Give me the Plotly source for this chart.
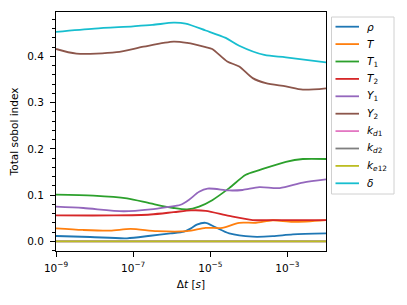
import plotly.graph_objects as go

# log10(Δt) positions and values
rho_x = [-9, -8.11, -7.16, -6.55, -6.03, -5.68, -5.5, -5.35, -5.12, -4.86, -4.51, -3.9, -3.38, -2.86, -2]
rho_y = [0.0115, 0.0093, 0.0065, 0.012, 0.017, 0.021, 0.028, 0.036, 0.040, 0.030, 0.017, 0.010, 0.011, 0.015, 0.017]

T_x = [-9, -8.3, -7.6, -7.07, -6.38, -5.6, -5.12, -4.69, -4.25, -3.82, -3.38, -2.86, -2]
T_y = [0.028, 0.0245, 0.023, 0.0267, 0.022, 0.022, 0.029, 0.029, 0.040, 0.040, 0.0455, 0.042, 0.046]

T1_x = [-9, -8.03, -7.16, -6.55, -5.95, -5.6, -5.29, -4.95, -4.51, -4.08, -3.73, -3.04, -2.6, -2]
T1_y = [0.101, 0.099, 0.093, 0.082, 0.072, 0.069, 0.075, 0.089, 0.115, 0.144, 0.154, 0.172, 0.178, 0.178]

T2_x = [-9, -7.5, -6.55, -5.95, -5.5, -5.12, -4.51, -3.9, -3.38, -2]
T2_y = [0.056, 0.056, 0.058, 0.063, 0.067, 0.066, 0.055, 0.046, 0.046, 0.046]

Y1_x = [-9, -8.29, -7.25, -6.55, -6.12, -5.77, -5.55, -5.29, -5.07, -4.51, -4.16, -3.73, -3.2, -2.6, -2]
Y1_y = [0.075, 0.072, 0.065, 0.069, 0.074, 0.079, 0.090, 0.107, 0.114, 0.110, 0.111, 0.117, 0.115, 0.127, 0.134]

Y2_x = [-9, -8.47, -7.43, -6.73, -5.95, -5.6, -5.12, -4.95, -4.56, -4.25, -3.9, -3.56, -3.04, -2.6, -2]
Y2_y = [0.416, 0.406, 0.409, 0.421, 0.432, 0.429, 0.420, 0.416, 0.389, 0.378, 0.353, 0.342, 0.335, 0.328, 0.331]

kd1_x = [-9, -2]
kd1_y = [0.0, 0.0]
kd2_x = [-9, -2]
kd2_y = [0.0, 0.0]
ke12_x = [-9, -2]
ke12_y = [0.0, 0.0]

delta_x = [-9, -8, -7, -6.5, -5.95, -5.64, -5.12, -4.6, -4.25, -3.6, -3.04, -2]
delta_y = [0.453, 0.460, 0.465, 0.468, 0.473, 0.471, 0.456, 0.440, 0.423, 0.403, 0.398, 0.387]

names = ["<i>ρ</i>", "<i>T</i>", "<i>T</i><sub>1</sub>", "<i>T</i><sub>2</sub>",
         "<i>Y</i><sub>1</sub>", "<i>Y</i><sub>2</sub>", "<i>k</i><sub><i>d</i>1</sub>",
         "<i>k</i><sub><i>d</i>2</sub>", "<i>k</i><sub><i>e</i>12</sub>", "<i>δ</i>"]
xs = [rho_x, T_x, T1_x, T2_x, Y1_x, Y2_x, kd1_x, kd2_x, ke12_x, delta_x]
ys = [rho_y, T_y, T1_y, T2_y, Y1_y, Y2_y, kd1_y, kd2_y, ke12_y, delta_y]
colors = ["#1f77b4", "#ff7f0e", "#2ca02c", "#d62728", "#9467bd",
          "#8c564b", "#e377c2", "#7f7f7f", "#bcbd22", "#17becf"]

xtick_vals = [1e-9, 1e-7, 1e-5, 1e-3]
xtick_text = ["10<sup>−9</sup>", "10<sup>−7</sup>", "10<sup>−5</sup>", "10<sup>−3</sup>"]
ytick_vals = [0.0, 0.1, 0.2, 0.3, 0.4]

W, H = 407, 305
ML, MR, MT, MB = 56, 81, 12, 54
PW, PH = W - ML - MR, H - MT - MB
FS = 10.5

fig = go.Figure()
for x, y, n, c in zip(xs, ys, names, colors):
    fig.add_trace(go.Scatter(
        x=[10 ** v for v in x], y=y, name=n, mode="lines", showlegend=False,
        line=dict(color=c, width=1.8, shape="spline", smoothing=0.8),
    ))

axis_common = dict(showline=True, linecolor="black", linewidth=1, mirror=True,
                   ticks="outside", ticklen=5, tickcolor="black", showgrid=False,
                   zeroline=False, tickfont=dict(size=FS, color="black"))

# legend drawn by hand (matplotlib style box)
def px_to_paper_x(px):
    return (px - ML) / PW

def py_to_paper_y(py):
    return (H - MB - py) / PH

leg_left, leg_right, leg_top, leg_bot = 331.5, 394, 17, 194
first_y, step = 26.7, 17.4
shapes = [dict(type="rect", xref="paper", yref="paper",
               x0=px_to_paper_x(leg_left), x1=px_to_paper_x(leg_right),
               y0=py_to_paper_y(leg_bot), y1=py_to_paper_y(leg_top),
               line=dict(color="#d0d0d0", width=1), fillcolor="rgba(255,255,255,0.8)",
               layer="above")]
annotations = []
for i, (n, c) in enumerate(zip(names, colors)):
    yy = py_to_paper_y(first_y + i * step)
    shapes.append(dict(type="line", xref="paper", yref="paper",
                       x0=px_to_paper_x(335.5), x1=px_to_paper_x(359),
                       y0=yy, y1=yy, line=dict(color=c, width=1.8), layer="above"))
    annotations.append(dict(text=n, xref="paper", yref="paper",
                            x=px_to_paper_x(365), y=yy, xanchor="left", yanchor="middle",
                            showarrow=False, font=dict(size=FS, color="black")))

fig.update_layout(
    width=W, height=H,
    margin=dict(l=ML, r=MR, t=MT, b=MB, autoexpand=False),
    paper_bgcolor="white", plot_bgcolor="white",
    font=dict(family="DejaVu Sans", size=FS, color="black"),
    xaxis=dict(type="log", range=[-9, -2], tickvals=xtick_vals, ticktext=xtick_text,
               ticklabelstandoff=2,
               title=dict(text="Δ<i>t</i> [<i>s</i>]", standoff=8, font=dict(size=FS)),
               **axis_common),
    yaxis=dict(range=[-0.021, 0.496], tickvals=ytick_vals, tickformat=".1f",
               ticklabelstandoff=4,
               minor=dict(dtick=0.02, ticks="outside", ticklen=3, tickcolor="black"),
               title=dict(text="Total sobol index", standoff=6, font=dict(size=FS)),
               **axis_common),
    shapes=shapes,
    annotations=annotations,
    showlegend=False,
)

fig.write_html("out.html", config={"displayModeBar": False},
               post_script="document.body.style.margin='0px';")
